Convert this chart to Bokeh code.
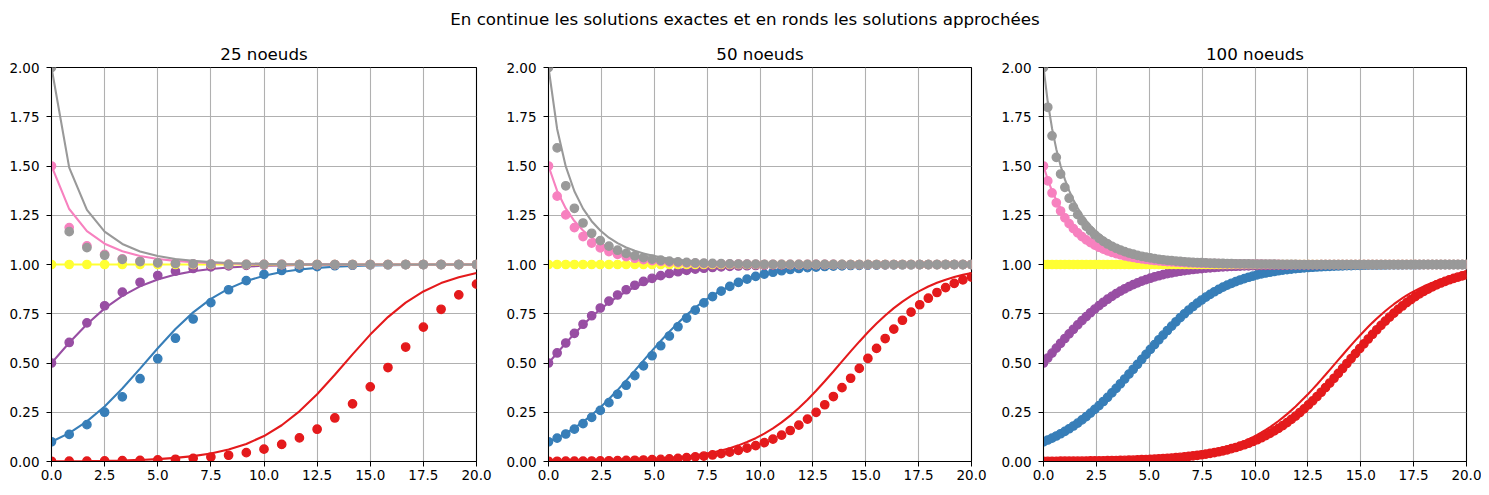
import numpy as np
from bokeh.plotting import figure
from bokeh.layouts import column, row
from bokeh.models import Range1d, Label, FixedTicker, PrintfTickFormatter
from bokeh.embed import file_html
from bokeh.resources import INLINE

# titres
suptitle = "En continue les solutions exactes et en ronds les solutions approchées"
titles = ["25 noeuds", "50 noeuds", "100 noeuds"]
x_ticks = [0, 2.5, 5, 7.5, 10, 12.5, 15, 17.5, 20]
y_ticks = [0, 0.25, 0.5, 0.75, 1.0, 1.25, 1.5, 1.75, 2.0]

# couleurs des 6 conditions initiales
c_red, c_blue, c_purple = "#e41a1c", "#377eb8", "#984ea3"
c_yellow, c_pink, c_gray = "#ffff33", "#f781bf", "#999999"

# ---- 25 noeuds ----
red_exact_25 = [0.001, 0.0015, 0.0023, 0.0035, 0.0053, 0.008, 0.012, 0.0182, 0.0273, 0.0408,
                0.0606, 0.0892, 0.1293, 0.1839, 0.2547, 0.3415, 0.4403, 0.544, 0.6441, 0.733,
                0.8064, 0.8633, 0.9055, 0.9356, 0.9566]
red_euler_25 = [0.001, 0.0014, 0.002, 0.0028, 0.004, 0.0057, 0.008, 0.0114, 0.016, 0.0226,
                0.0318, 0.0447, 0.0625, 0.0869, 0.1199, 0.1639, 0.221, 0.2927, 0.379, 0.477,
                0.581, 0.6824, 0.7727, 0.8459, 0.9002]
blue_exact_25 = [0.1, 0.1442, 0.2036, 0.2794, 0.3704, 0.4716, 0.5751, 0.6725, 0.757, 0.8253,
                 0.8775, 0.9158, 0.9428, 0.9616, 0.9743, 0.9829, 0.9887, 0.9925, 0.995, 0.9967,
                 0.9978, 0.9986, 0.9991, 0.9994, 0.9996]
blue_euler_25 = [0.1, 0.1375, 0.1869, 0.2502, 0.3284, 0.4203, 0.5218, 0.6258, 0.7234, 0.8068,
                 0.8717, 0.9183, 0.9496, 0.9695, 0.9818, 0.9893, 0.9937, 0.9963, 0.9978, 0.9987,
                 0.9993, 0.9996, 0.9998, 0.9998, 0.9999]
purple_exact_25 = [0.5, 0.6027, 0.6971, 0.7773, 0.8411, 0.8893, 0.9241, 0.9487, 0.9656, 0.977,
                   0.9847, 0.9899, 0.9933, 0.9956, 0.9971, 0.9981, 0.9987, 0.9992, 0.9994, 0.9996,
                   0.9998, 0.9998, 0.9999, 0.9999, 1.0]
purple_euler_25 = [0.5, 0.6042, 0.7038, 0.7907, 0.8596, 0.9099, 0.9441, 0.9661, 0.9797, 0.988,
                   0.9929, 0.9959, 0.9976, 0.9986, 0.9992, 0.9995, 0.9997, 0.9998, 0.9999, 0.9999,
                   1.0, 1.0, 1.0, 1.0, 1.0]
yellow_exact_25 = [1.0] * 25
yellow_euler_25 = [1.0] * 25
pink_exact_25 = [1.5, 1.2816, 1.1694, 1.1056, 1.0672, 1.0433, 1.0281, 1.0184, 1.012, 1.0079,
                 1.0052, 1.0034, 1.0023, 1.0015, 1.001, 1.0006, 1.0004, 1.0003, 1.0002, 1.0001,
                 1.0001, 1.0001, 1.0, 1.0, 1.0]
pink_euler_25 = [1.5, 1.1875, 1.0947, 1.0515, 1.0289, 1.0165, 1.0095, 1.0055, 1.0032, 1.0019,
                 1.0011, 1.0006, 1.0004, 1.0002, 1.0001, 1.0001, 1.0, 1.0, 1.0, 1.0,
                 1.0, 1.0, 1.0, 1.0, 1.0]
gray_exact_25 = [2.0, 1.4917, 1.2776, 1.1672, 1.1043, 1.0664, 1.0428, 1.0278, 1.0182, 1.0119,
                 1.0078, 1.0051, 1.0034, 1.0022, 1.0015, 1.001, 1.0006, 1.0004, 1.0003, 1.0002,
                 1.0001, 1.0001, 1.0001, 1.0, 1.0]
gray_euler_25 = [2.0, 1.1667, 1.0856, 1.0469, 1.0264, 1.0151, 1.0087, 1.0051, 1.0029, 1.0017,
                 1.001, 1.0006, 1.0003, 1.0002, 1.0001, 1.0001, 1.0, 1.0, 1.0, 1.0,
                 1.0, 1.0, 1.0, 1.0, 1.0]

# ---- 50 noeuds ----
red_exact_50 = [0.001, 0.0012, 0.0015, 0.0018, 0.0023, 0.0028, 0.0034, 0.0042, 0.0051, 0.0062,
                0.0076, 0.0094, 0.0115, 0.014, 0.0171, 0.0209, 0.0255, 0.0311, 0.0379, 0.0461,
                0.056, 0.0678, 0.0819, 0.0986, 0.1183, 0.1413, 0.1679, 0.1984, 0.2328, 0.2712,
                0.3134, 0.3589, 0.4071, 0.4571, 0.508, 0.5588, 0.6083, 0.6557, 0.7002, 0.7413,
                0.7784, 0.8116, 0.8409, 0.8663, 0.8882, 0.9069, 0.9228, 0.9361, 0.9473, 0.9566]
red_euler_50 = [0.001, 0.0012, 0.0014, 0.0017, 0.0021, 0.0025, 0.003, 0.0037, 0.0044, 0.0053,
                0.0064, 0.0077, 0.0092, 0.0111, 0.0133, 0.016, 0.0192, 0.0231, 0.0277, 0.0332,
                0.0397, 0.0475, 0.0567, 0.0676, 0.0805, 0.0956, 0.1133, 0.1338, 0.1574, 0.1845,
                0.2152, 0.2497, 0.2879, 0.3297, 0.3748, 0.4226, 0.4724, 0.5233, 0.5742, 0.6241,
                0.672, 0.717, 0.7584, 0.7958, 0.8289, 0.8579, 0.8828, 0.9039, 0.9216, 0.9364]
blue_exact_50 = [0.1, 0.1199, 0.1432, 0.17, 0.2009, 0.2356, 0.2743, 0.3168, 0.3625, 0.4108,
                 0.461, 0.5119, 0.5626, 0.612, 0.6593, 0.7035, 0.7442, 0.7811, 0.814, 0.8429,
                 0.8681, 0.8898, 0.9083, 0.9239, 0.9371, 0.9481, 0.9573, 0.9649, 0.9712, 0.9764,
                 0.9807, 0.9842, 0.9871, 0.9894, 0.9914, 0.9929, 0.9942, 0.9953, 0.9962, 0.9969,
                 0.9974, 0.9979, 0.9983, 0.9986, 0.9989, 0.9991, 0.9993, 0.9994, 0.9995, 0.9996]
blue_euler_50 = [0.1, 0.1184, 0.1397, 0.1642, 0.1922, 0.2239, 0.2593, 0.2985, 0.3413, 0.3872,
                 0.4356, 0.4857, 0.5367, 0.5875, 0.6369, 0.6841, 0.7282, 0.7686, 0.8049, 0.837,
                 0.8648, 0.8887, 0.9089, 0.9258, 0.9398, 0.9513, 0.9608, 0.9685, 0.9747, 0.9797,
                 0.9838, 0.987, 0.9897, 0.9917, 0.9934, 0.9948, 0.9958, 0.9967, 0.9973, 0.9979,
                 0.9983, 0.9987, 0.9989, 0.9992, 0.9993, 0.9995, 0.9996, 0.9997, 0.9997, 0.9998]
purple_exact_50 = [0.5, 0.5508, 0.6007, 0.6485, 0.6935, 0.7351, 0.7729, 0.8067, 0.8365, 0.8626,
                   0.885, 0.9042, 0.9205, 0.9342, 0.9457, 0.9553, 0.9632, 0.9698, 0.9752, 0.9797,
                   0.9834, 0.9864, 0.9889, 0.9909, 0.9926, 0.994, 0.9951, 0.996, 0.9967, 0.9973,
                   0.9978, 0.9982, 0.9985, 0.9988, 0.999, 0.9992, 0.9994, 0.9995, 0.9996, 0.9997,
                   0.9997, 0.9998, 0.9998, 0.9998, 0.9999, 0.9999, 0.9999, 0.9999, 0.9999, 1.0]
purple_euler_50 = [0.5, 0.551, 0.6015, 0.6504, 0.6968, 0.7399, 0.7792, 0.8143, 0.8452, 0.8719,
                   0.8947, 0.9139, 0.93, 0.9433, 0.9542, 0.9631, 0.9704, 0.9762, 0.981, 0.9848,
                   0.9878, 0.9903, 0.9923, 0.9938, 0.9951, 0.9961, 0.9969, 0.9975, 0.998, 0.9984,
                   0.9987, 0.999, 0.9992, 0.9994, 0.9995, 0.9996, 0.9997, 0.9997, 0.9998, 0.9998,
                   0.9999, 0.9999, 0.9999, 0.9999, 1.0, 1.0, 1.0, 1.0, 1.0, 1.0]
yellow_exact_50 = [1.0] * 50
yellow_euler_50 = [1.0] * 50
pink_exact_50 = [1.5, 1.3733, 1.2847, 1.2206, 1.1728, 1.1366, 1.1086, 1.0868, 1.0697, 1.0561,
                 1.0453, 1.0366, 1.0297, 1.024, 1.0195, 1.0159, 1.0129, 1.0105, 1.0085, 1.007,
                 1.0057, 1.0046, 1.0038, 1.0031, 1.0025, 1.002, 1.0017, 1.0014, 1.0011, 1.0009,
                 1.0007, 1.0006, 1.0005, 1.0004, 1.0003, 1.0003, 1.0002, 1.0002, 1.0001, 1.0001,
                 1.0001, 1.0001, 1.0001, 1.0, 1.0, 1.0, 1.0, 1.0, 1.0, 1.0]
pink_euler_50 = [1.5, 1.3469, 1.2516, 1.1873, 1.1419, 1.1089, 1.0842, 1.0656, 1.0513, 1.0403,
                 1.0318, 1.0251, 1.0198, 1.0157, 1.0124, 1.0099, 1.0078, 1.0062, 1.0049, 1.0039,
                 1.0031, 1.0025, 1.002, 1.0016, 1.0013, 1.001, 1.0008, 1.0006, 1.0005, 1.0004,
                 1.0003, 1.0003, 1.0002, 1.0002, 1.0001, 1.0001, 1.0001, 1.0001, 1.0, 1.0,
                 1.0, 1.0, 1.0, 1.0, 1.0, 1.0, 1.0, 1.0, 1.0, 1.0]
gray_exact_50 = [2.0, 1.6883, 1.498, 1.3719, 1.2837, 1.2199, 1.1723, 1.1361, 1.1083, 1.0866,
                 1.0695, 1.0559, 1.0451, 1.0365, 1.0296, 1.024, 1.0195, 1.0158, 1.0129, 1.0105,
                 1.0085, 1.0069, 1.0056, 1.0046, 1.0038, 1.0031, 1.0025, 1.002, 1.0017, 1.0014,
                 1.0011, 1.0009, 1.0007, 1.0006, 1.0005, 1.0004, 1.0003, 1.0003, 1.0002, 1.0002,
                 1.0001, 1.0001, 1.0001, 1.0001, 1.0001, 1.0, 1.0, 1.0, 1.0, 1.0]
gray_euler_50 = [2.0, 1.5918, 1.3996, 1.2854, 1.2106, 1.1585, 1.1211, 1.0934, 1.0725, 1.0567,
                 1.0444, 1.035, 1.0276, 1.0218, 1.0173, 1.0137, 1.0108, 1.0086, 1.0068, 1.0054,
                 1.0043, 1.0034, 1.0027, 1.0022, 1.0017, 1.0014, 1.0011, 1.0009, 1.0007, 1.0005,
                 1.0004, 1.0003, 1.0003, 1.0002, 1.0002, 1.0001, 1.0001, 1.0001, 1.0001, 1.0,
                 1.0, 1.0, 1.0, 1.0, 1.0, 1.0, 1.0, 1.0, 1.0, 1.0]

# ---- 100 noeuds ----
red_exact_100 = [0.001, 0.0011, 0.0012, 0.0014, 0.0015, 0.0017, 0.0018, 0.002, 0.0022, 0.0025,
                 0.0027, 0.003, 0.0034, 0.0037, 0.0041, 0.0045, 0.005, 0.0055, 0.0061, 0.0068,
                 0.0075, 0.0083, 0.0092, 0.0101, 0.0112, 0.0124, 0.0136, 0.0151, 0.0167, 0.0184,
                 0.0203, 0.0224, 0.0247, 0.0273, 0.0301, 0.0332, 0.0366, 0.0403, 0.0444, 0.0489,
                 0.0538, 0.0592, 0.0651, 0.0715, 0.0785, 0.0862, 0.0945, 0.1035, 0.1132, 0.1238,
                 0.1351, 0.1474, 0.1605, 0.1746, 0.1897, 0.2057, 0.2227, 0.2406, 0.2595, 0.2795,
                 0.3002, 0.3219, 0.3443, 0.3675, 0.3912, 0.4156, 0.4403, 0.4653, 0.4905, 0.5157,
                 0.5409, 0.5659, 0.5905, 0.6147, 0.6383, 0.6613, 0.6835, 0.705, 0.7255, 0.7452,
                 0.7639, 0.7816, 0.7984, 0.8142, 0.8289, 0.8428, 0.8557, 0.8677, 0.8789, 0.8892,
                 0.8988, 0.9076, 0.9157, 0.9233, 0.9301, 0.9364, 0.9421, 0.9474, 0.9522, 0.9566]
red_euler_100 = [0.001, 0.0011, 0.0012, 0.0013, 0.0015, 0.0016, 0.0018, 0.002, 0.0022, 0.0024,
                 0.0026, 0.0029, 0.0032, 0.0035, 0.0038, 0.0042, 0.0046, 0.0051, 0.0056, 0.0062,
                 0.0068, 0.0075, 0.0083, 0.0091, 0.01, 0.011, 0.0121, 0.0133, 0.0146, 0.0161,
                 0.0177, 0.0194, 0.0213, 0.0235, 0.0258, 0.0283, 0.0311, 0.0341, 0.0375, 0.0411,
                 0.0451, 0.0494, 0.0542, 0.0593, 0.065, 0.0711, 0.0778, 0.085, 0.0929, 0.1014,
                 0.1106, 0.1205, 0.1313, 0.1428, 0.1551, 0.1684, 0.1825, 0.1976, 0.2136, 0.2306,
                 0.2485, 0.2674, 0.2871, 0.3078, 0.3293, 0.3516, 0.3747, 0.3983, 0.4226, 0.4472,
                 0.4722, 0.4973, 0.5226, 0.5478, 0.5728, 0.5975, 0.6218, 0.6456, 0.6687, 0.6911,
                 0.7126, 0.7333, 0.7531, 0.7719, 0.7896, 0.8064, 0.8222, 0.837, 0.8507, 0.8636,
                 0.8755, 0.8865, 0.8966, 0.906, 0.9146, 0.9225, 0.9297, 0.9363, 0.9423, 0.9478]
blue_exact_100 = [0.1, 0.1095, 0.1199, 0.1308, 0.1427, 0.1555, 0.1692, 0.1839, 0.1995, 0.2162,
                  0.2338, 0.2523, 0.2719, 0.2923, 0.3137, 0.3358, 0.3587, 0.3822, 0.4064, 0.4309,
                  0.4559, 0.481, 0.5062, 0.5315, 0.5565, 0.5813, 0.6056, 0.6295, 0.6527, 0.6753,
                  0.697, 0.7179, 0.7379, 0.757, 0.7751, 0.7922, 0.8083, 0.8235, 0.8377, 0.851,
                  0.8633, 0.8748, 0.8855, 0.8953, 0.9044, 0.9128, 0.9205, 0.9276, 0.9341, 0.94,
                  0.9455, 0.9505, 0.955, 0.9592, 0.9629, 0.9664, 0.9695, 0.9724, 0.9749, 0.9773,
                  0.9794, 0.9814, 0.9831, 0.9847, 0.9862, 0.9875, 0.9887, 0.9898, 0.9907, 0.9916,
                  0.9924, 0.9931, 0.9938, 0.9944, 0.9949, 0.9954, 0.9958, 0.9962, 0.9966, 0.9969,
                  0.9972, 0.9975, 0.9977, 0.9979, 0.9981, 0.9983, 0.9985, 0.9986, 0.9988, 0.9989,
                  0.999, 0.9991, 0.9992, 0.9993, 0.9993, 0.9994, 0.9995, 0.9995, 0.9996, 0.9996]
blue_euler_100 = [0.1, 0.1091, 0.1189, 0.1295, 0.1409, 0.1531, 0.1662, 0.1802, 0.1951, 0.211,
                  0.2278, 0.2456, 0.2643, 0.2839, 0.3045, 0.3258, 0.348, 0.371, 0.3945, 0.4187,
                  0.4432, 0.4682, 0.4933, 0.5186, 0.5438, 0.5688, 0.5936, 0.618, 0.6418, 0.665,
                  0.6875, 0.7092, 0.7301, 0.75, 0.7689, 0.7869, 0.8038, 0.8197, 0.8347, 0.8486,
                  0.8616, 0.8736, 0.8848, 0.8951, 0.9046, 0.9133, 0.9213, 0.9286, 0.9353, 0.9414,
                  0.947, 0.9521, 0.9567, 0.9609, 0.9647, 0.9681, 0.9712, 0.974, 0.9766, 0.9789,
                  0.981, 0.9829, 0.9846, 0.9861, 0.9875, 0.9887, 0.9899, 0.9909, 0.9918, 0.9926,
                  0.9934, 0.994, 0.9946, 0.9952, 0.9956, 0.9961, 0.9965, 0.9968, 0.9972, 0.9974,
                  0.9977, 0.9979, 0.9981, 0.9983, 0.9985, 0.9986, 0.9988, 0.9989, 0.999, 0.9991,
                  0.9992, 0.9993, 0.9994, 0.9994, 0.9995, 0.9995, 0.9996, 0.9996, 0.9997, 0.9997]
purple_exact_100 = [0.5, 0.5252, 0.5503, 0.5752, 0.5997, 0.6236, 0.647, 0.6698, 0.6917, 0.7128,
                    0.733, 0.7523, 0.7707, 0.788, 0.8044, 0.8198, 0.8343, 0.8478, 0.8603, 0.872,
                    0.8829, 0.8929, 0.9022, 0.9108, 0.9187, 0.9259, 0.9325, 0.9386, 0.9442, 0.9493,
                    0.9539, 0.9582, 0.962, 0.9656, 0.9688, 0.9717, 0.9743, 0.9767, 0.9789, 0.9809,
                    0.9827, 0.9843, 0.9858, 0.9872, 0.9884, 0.9895, 0.9905, 0.9914, 0.9922, 0.993,
                    0.9936, 0.9942, 0.9948, 0.9953, 0.9957, 0.9961, 0.9965, 0.9969, 0.9972, 0.9974,
                    0.9977, 0.9979, 0.9981, 0.9983, 0.9984, 0.9986, 0.9987, 0.9989, 0.999, 0.9991,
                    0.9992, 0.9992, 0.9993, 0.9994, 0.9994, 0.9995, 0.9995, 0.9996, 0.9996, 0.9997] + [1.0] * 20
purple_euler_100 = [0.5, 0.5253, 0.5504, 0.5754, 0.6001, 0.6244, 0.648, 0.6711, 0.6934, 0.7149,
                    0.7354, 0.7551, 0.7738, 0.7915, 0.8081, 0.8238, 0.8385, 0.8521, 0.8649, 0.8767,
                    0.8876, 0.8977, 0.9069, 0.9155, 0.9233, 0.9304, 0.937, 0.9429, 0.9484, 0.9533,
                    0.9578, 0.9619, 0.9656, 0.969, 0.972, 0.9747, 0.9772, 0.9795, 0.9815, 0.9833,
                    0.985, 0.9865, 0.9878, 0.989, 0.9901, 0.9911, 0.992, 0.9928, 0.9935, 0.9942,
                    0.9948, 0.9953, 0.9958, 0.9962, 0.9966, 0.9969, 0.9972, 0.9975, 0.9978, 0.998,
                    0.9982, 0.9984, 0.9985, 0.9987, 0.9988, 0.9989, 0.999, 0.9991, 0.9992, 0.9993] + [1.0] * 30
yellow_exact_100 = [1.0] * 100
yellow_euler_100 = [1.0] * 100
pink_exact_100 = [1.5, 1.4313, 1.3743, 1.3266, 1.2862, 1.2518, 1.2222, 1.1967, 1.1745, 1.1551,
                  1.1382, 1.1233, 1.1101, 1.0985, 1.0882, 1.0791, 1.0709, 1.0637, 1.0572, 1.0514,
                  1.0463, 1.0416, 1.0375, 1.0338, 1.0304, 1.0274, 1.0247, 1.0223, 1.0201, 1.0181,
                  1.0164, 1.0148, 1.0133, 1.012, 1.0109, 1.0098, 1.0089, 1.008, 1.0072, 1.0065,
                  1.0059, 1.0053, 1.0048, 1.0043, 1.0039, 1.0036, 1.0032, 1.0029, 1.0026, 1.0024,
                  1.0021, 1.0019, 1.0018, 1.0016, 1.0014, 1.0013, 1.0012, 1.0011, 1.001, 1.0009] + [1.0] * 40
pink_euler_100 = [1.5, 1.4242, 1.3632, 1.3132, 1.2717, 1.2368, 1.2072, 1.1819, 1.1602, 1.1414,
                  1.1251, 1.1109, 1.0985, 1.0875, 1.0779, 1.0694, 1.0619, 1.0553, 1.0494, 1.0442,
                  1.0395, 1.0354, 1.0317, 1.0284, 1.0254, 1.0228, 1.0204, 1.0183, 1.0164, 1.0147,
                  1.0132, 1.0119, 1.0107, 1.0096, 1.0086, 1.0077, 1.0069, 1.0062, 1.0056, 1.005,
                  1.0045, 1.0041, 1.0036, 1.0033, 1.0029, 1.0026, 1.0024, 1.0021, 1.0019, 1.0017,
                  1.0016, 1.0014, 1.0013, 1.0011, 1.001, 1.0009] + [1.0] * 44
gray_exact_100 = [2.0, 1.8247, 1.6907, 1.5855, 1.5011, 1.4321, 1.375, 1.3272, 1.2868, 1.2523,
                  1.2226, 1.197, 1.1748, 1.1554, 1.1384, 1.1235, 1.1103, 1.0986, 1.0883, 1.0792,
                  1.071, 1.0638, 1.0573, 1.0515, 1.0463, 1.0417, 1.0375, 1.0338, 1.0305, 1.0275,
                  1.0248, 1.0223, 1.0201, 1.0182, 1.0164, 1.0148, 1.0134, 1.0121, 1.0109, 1.0098,
                  1.0089, 1.008, 1.0072, 1.0065, 1.0059, 1.0053, 1.0048, 1.0044, 1.0039, 1.0036,
                  1.0032, 1.0029, 1.0026, 1.0024, 1.0021, 1.0019, 1.0017, 1.0016, 1.0014, 1.0013,
                  1.0012, 1.0011, 1.001, 1.0009, 1.0008] + [1.0] * 35
gray_euler_100 = [2.0, 1.798, 1.6531, 1.544, 1.4592, 1.3915, 1.3365, 1.291, 1.2531, 1.2211,
                  1.1938, 1.1704, 1.1503, 1.1328, 1.1176, 1.1043, 1.0927, 1.0825, 1.0735, 1.0655,
                  1.0584, 1.0522, 1.0466, 1.0417, 1.0373, 1.0334, 1.0299, 1.0268, 1.024, 1.0215,
                  1.0193, 1.0173, 1.0156, 1.014, 1.0125, 1.0112, 1.0101, 1.0091, 1.0081, 1.0073,
                  1.0066, 1.0059, 1.0053, 1.0048, 1.0043, 1.0038, 1.0035, 1.0031, 1.0028, 1.0025,
                  1.0023, 1.002, 1.0018, 1.0016, 1.0015, 1.0013, 1.0012, 1.0011, 1.001, 1.0009] + [1.0] * 40

FONT = "DejaVu Sans"


def panel(title, n, series, width, border_left, border_right):
    x = np.linspace(0, 20, n)  # noeuds du maillage
    p = figure(width=width, height=449, x_range=Range1d(0, 20), y_range=Range1d(0, 2),
               toolbar_location=None, output_backend="svg",
               min_border_left=border_left, min_border_right=border_right,
               min_border_top=28, min_border_bottom=26)
    p.title.text = title
    p.title.align = "center"
    p.title.text_font = FONT
    p.title.text_font_size = "16.7px"
    p.title.text_font_style = "normal"
    p.title.text_color = "black"
    p.title.standoff = 7
    p.outline_line_color = "black"
    p.outline_line_width = 1.1
    p.xaxis.ticker = FixedTicker(ticks=x_ticks)
    p.yaxis.ticker = FixedTicker(ticks=y_ticks)
    p.xaxis.formatter = PrintfTickFormatter(format="%.1f")
    p.yaxis.formatter = PrintfTickFormatter(format="%.2f")
    p.axis.axis_line_color = "black"
    p.axis.major_tick_line_color = "black"
    p.axis.major_tick_out = 5
    p.axis.major_tick_in = 0
    p.axis.minor_tick_line_color = None
    p.axis.major_label_text_font = FONT
    p.axis.major_label_text_font_size = "13.5px"
    p.axis.major_label_text_color = "black"
    p.xaxis.major_label_standoff = 3
    p.yaxis.major_label_standoff = 7
    p.grid.grid_line_color = "#b0b0b0"
    p.grid.grid_line_width = 1.1

    for color, exact, approx in series:
        p.line(x, exact, line_color=color, line_width=2.1)
        p.scatter(x, approx, size=8.3, fill_color=color, line_color=color, line_width=1.4)
    return p


s25 = [(c_red, red_exact_25, red_euler_25), (c_blue, blue_exact_25, blue_euler_25),
       (c_purple, purple_exact_25, purple_euler_25), (c_yellow, yellow_exact_25, yellow_euler_25),
       (c_pink, pink_exact_25, pink_euler_25), (c_gray, gray_exact_25, gray_euler_25)]
s50 = [(c_red, red_exact_50, red_euler_50), (c_blue, blue_exact_50, blue_euler_50),
       (c_purple, purple_exact_50, purple_euler_50), (c_yellow, yellow_exact_50, yellow_euler_50),
       (c_pink, pink_exact_50, pink_euler_50), (c_gray, gray_exact_50, gray_euler_50)]
s100 = [(c_red, red_exact_100, red_euler_100), (c_blue, blue_exact_100, blue_euler_100),
        (c_purple, purple_exact_100, purple_euler_100), (c_yellow, yellow_exact_100, yellow_euler_100),
        (c_pink, pink_exact_100, pink_euler_100), (c_gray, gray_exact_100, gray_euler_100)]

p1 = panel(titles[0], 25, s25, 503, 51, 27)
p2 = panel(titles[1], 50, s50, 495, 43, 27)
p3 = panel(titles[2], 100, s100, 483, 43, 15)

head = figure(width=1481, height=38, x_range=Range1d(0, 1481), y_range=Range1d(0, 38),
              toolbar_location=None, output_backend="svg", min_border=0,
              x_axis_location=None, y_axis_location=None)
head.outline_line_color = None
head.grid.visible = False
head.add_layout(Label(x=744.5, y=19.2, text=suptitle, text_align="center",
                      text_baseline="alphabetic", text_font=FONT,
                      text_font_size="16.7px", text_color="black"))

layout = column(head, row(p1, p2, p3))

open("out.html", "w").write(file_html(layout, INLINE, "Solutions exactes et approchees"))
